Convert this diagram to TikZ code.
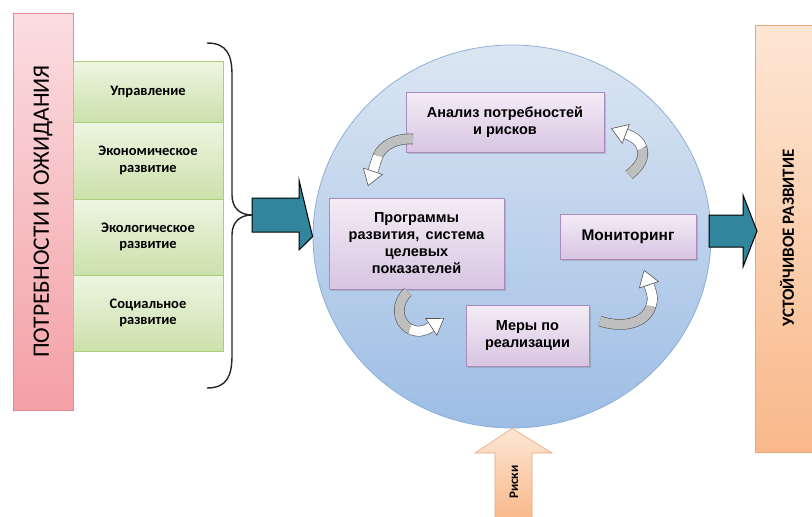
\documentclass[tikz,border=0pt]{standalone}
\usepackage{fontspec}
\setmainfont{Carlito}
\newfontfamily\arialf{Liberation Sans}
\usetikzlibrary{shadows,calc,arrows.meta,shapes.geometric}
\definecolor{pinkT}{HTML}{FBDDE0}
\definecolor{pinkB}{HTML}{F3A0A6}
\definecolor{pinkD}{HTML}{E48A92}
\definecolor{greenT}{HTML}{EEF5E2}
\definecolor{greenB}{HTML}{CBE1AB}
\definecolor{greenD}{HTML}{A9CF7E}
\definecolor{purpT}{HTML}{F4ECF6}
\definecolor{purpB}{HTML}{D8C5E2}
\definecolor{purpD}{HTML}{A88CC0}
\definecolor{circT}{HTML}{DCE6F2}
\definecolor{circB}{HTML}{9DBDE5}
\definecolor{circD}{HTML}{8DAFD7}
\definecolor{oranT}{HTML}{FDE6D4}
\definecolor{oranB}{HTML}{F9B88A}
\definecolor{oranD}{HTML}{E8A778}
\definecolor{tealA}{HTML}{31859C}
\definecolor{arrD}{HTML}{555555}
\definecolor{arrG}{HTML}{BFBFBF}
\tikzset{
  pinkbox/.style={draw=pinkD, line width=0.6pt, top color=pinkT, bottom color=pinkB, inner sep=0},
  greenbox/.style={draw=greenD, line width=0.6pt, top color=greenT, bottom color=greenB, inner sep=0,
    minimum width=150pt, align=center, font=\fontsize{14.5}{16.5}\selectfont\bfseries,
    drop shadow={shadow xshift=1pt, shadow yshift=-1pt, opacity=.25}},
  purpbox/.style={draw=purpD, line width=0.6pt, top color=purpT, bottom color=purpB, inner sep=0,
    align=center, font=\arialf\fontsize{14.5}{17}\selectfont\bfseries,
    drop shadow={shadow xshift=1.5pt, shadow yshift=-1.5pt, opacity=.35}},
  oranbox/.style={draw=oranD, line width=0.6pt, top color=oranT, bottom color=oranB, inner sep=0},
  tealarrow/.style={draw=black, line width=1pt, fill=tealA, line join=miter},
  bandout/.style={draw=arrD, line width=10.6pt},
  bandgray/.style={draw=arrG, line width=9.4pt},
  bandwhite/.style={draw=white, line width=9.4pt},
  headtip/.style={draw=arrD, line width=0.6pt, -{Triangle[length=16pt,width=21pt,fill=white,line width=0.6pt]}},
}
\newcommand{\cyclearrow}[7]{%
  \draw[bandout] #1 .. controls #2 and #3 .. #4 .. controls #5 and #6 .. #7;
  \draw[bandgray] #1 .. controls #2 and #3 .. #4;
  \draw[bandwhite] #4 .. controls #5 and #6 .. #7;
  \draw[headtip] #7 -- ($#7!-16pt!#6$);
}
\begin{document}
\begin{tikzpicture}[x=1pt,y=-1pt]
\useasboundingbox (0,0) rectangle (812,517);

% left pink bar
\node[pinkbox, minimum width=60pt, minimum height=397pt] (needs) at (43,211.5) {};
\node[rotate=90, font=\fontsize{23.5}{26}\selectfont] (needsT) at (43,211.5) {ПОТРЕБНОСТИ И ОЖИДАНИЯ};

% green boxes
\node[greenbox, minimum height=61pt] (g1) at (148,91.5) {Управление};
\node[greenbox, minimum height=77pt] (g2) at (148,160.5) {Экономическое\\развитие};
\node[greenbox, minimum height=76pt] (g3) at (148,237) {Экологическое\\развитие};
\node[greenbox, minimum height=76pt] (g4) at (148,313) {Социальное\\развитие};

% brace
\coordinate (btip) at (252,215);
\draw[line width=1.4pt, black!85] (207,43) .. controls (227,43) and (232,55) .. (232,75)
  -- (232,195) .. controls (232,208) and (240,215) .. (btip)
  .. controls (240,215) and (232,222) .. (232,235)
  -- (232,355) .. controls (232,376) and (227,388) .. (207,388);

% right orange bar
\node[oranbox, minimum width=62pt, minimum height=427pt, anchor=north west] (goal) at (755,25) {};
\node[rotate=90, font=\fontsize{17}{19}\selectfont\bfseries] (goalT) at (787,238) {УСТОЙЧИВОЕ РАЗВИТИЕ};

% circle
\node[draw=circD, line width=0.8pt, top color=circT, bottom color=circB, ellipse, minimum width=398pt, minimum height=383pt, inner sep=0] (circ) at (512,236.5) {};

% teal arrows
\draw[tealarrow] (252,198) -- (299,198) -- (299,180) -- (circ.west) -- (299,250) -- (299,232) -- (252,232) -- cycle;
\draw[tealarrow] (709,215) -- (743,215) -- (743,195) -- (757,231) -- (743,267) -- (743,247) -- (709,247) -- cycle;

% risks arrow
\draw[draw=oranD, line width=0.6pt, top color=oranT, bottom color=oranB] (495,520) -- (495,453) -- (475,453) -- (circ.south) -- (552,453) -- (532,453) -- (532,520);
\node[rotate=90, font=\fontsize{13}{15}\selectfont\bfseries] (risk) at (514,482) {Риски};

% purple boxes
\node[purpbox, minimum width=198pt, minimum height=60pt] (anal) at (505,122) {Анализ потребностей\\и рисков};
\node[purpbox, minimum width=175pt, minimum height=91pt] (prog) at (416.5,243.5) {Программы\\развития,\, система\\целевых\\показателей};
\node[purpbox, minimum width=136pt, minimum height=45pt, font=\arialf\fontsize{15.5}{18}\selectfont\bfseries] (mon) at (628,236.5) {Мониторинг};
\node[purpbox, minimum width=123pt, minimum height=61pt] (mer) at (527.5,335.5) {Меры по\\реализации};

% cycle arrows
\cyclearrow{(413,139)}{(395,138)}{(382,146)}{(378,156)}{(376,161)}{(375,165)}{(373,171)}
\cyclearrow{(629,175)}{(640,166)}{(645,158)}{(642,148)}{(640,141)}{(634,137)}{(626,134)}
\cyclearrow{(408,292)}{(396,302)}{(396,322)}{(410,329)}{(418,333)}{(425,331)}{(431,327)}
\cyclearrow{(600,321)}{(620,328)}{(645,325)}{(651,306)}{(654,297)}{(651,291)}{(649,285)}
\end{tikzpicture}
\end{document}
